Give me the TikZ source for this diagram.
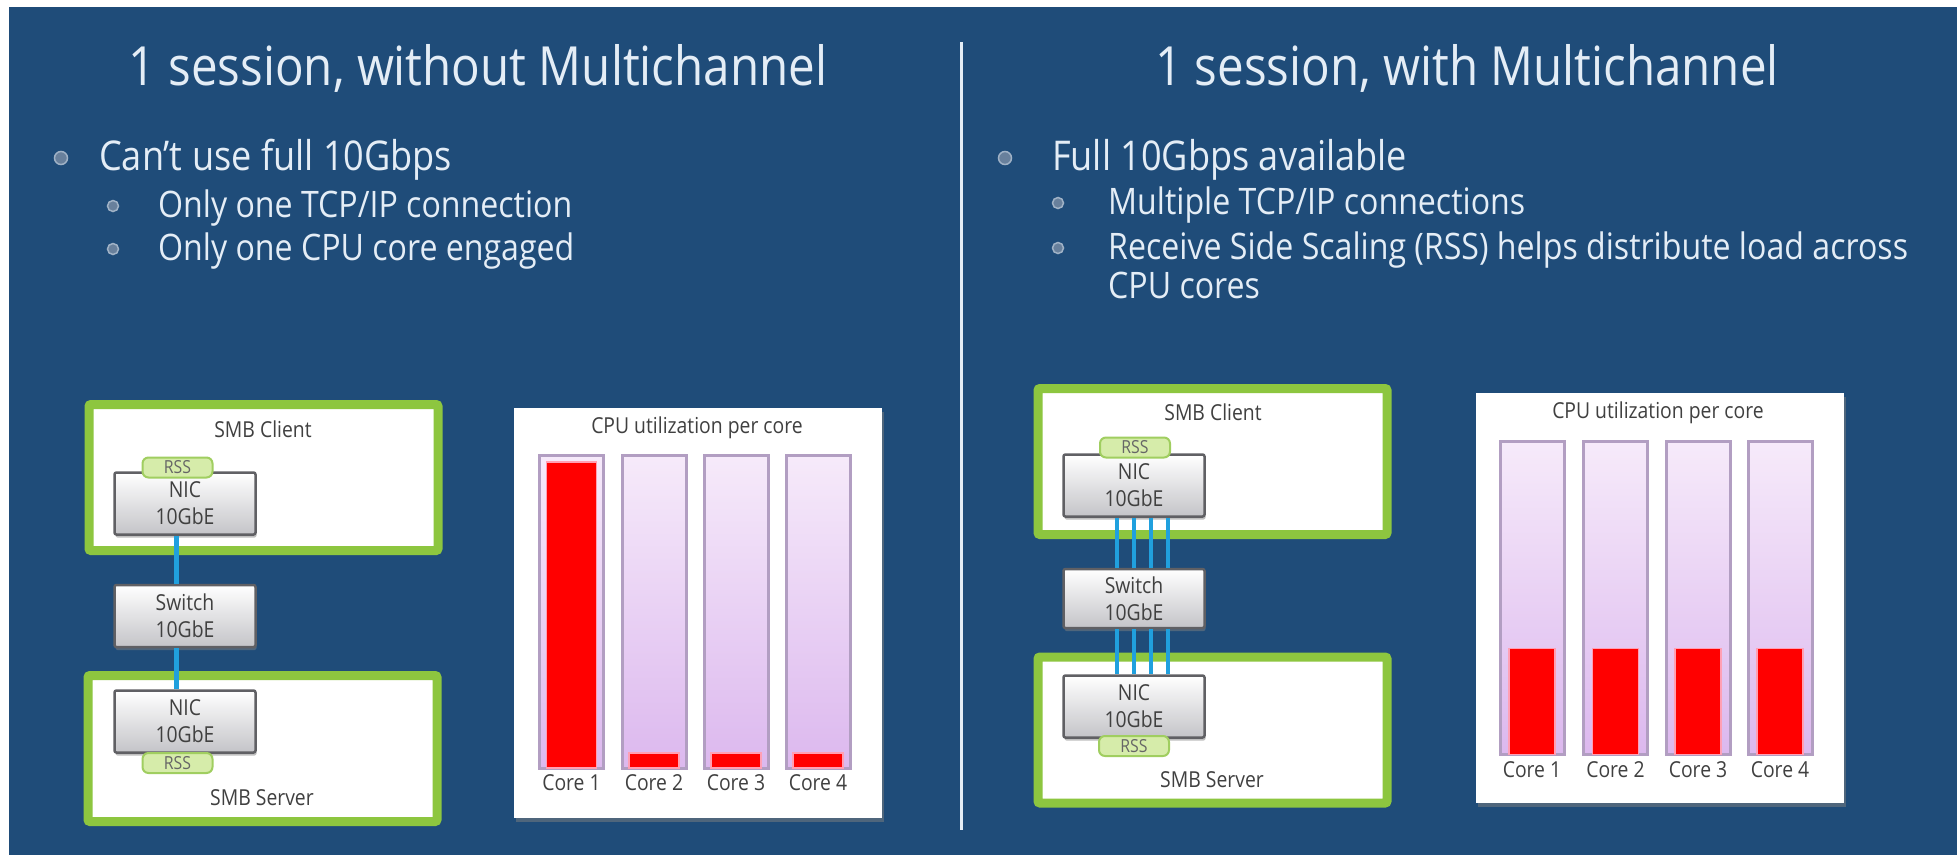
\documentclass[tikz,border=0pt]{standalone}
\usepackage{fontspec}
\setmainfont{Open Sans}[FakeStretch=0.88]
\usetikzlibrary{positioning, shadows}
\definecolor{slideblue}{RGB}{31,76,121}
\definecolor{slidetext}{RGB}{228,237,246}
\definecolor{hostgreen}{RGB}{141,198,63}
\definecolor{rssgreen}{RGB}{214,236,170}
\definecolor{rssedge}{RGB}{160,206,96}
\definecolor{boxgray}{RGB}{196,196,200}
\definecolor{boxedge}{RGB}{96,96,100}
\definecolor{darktext}{RGB}{64,64,64}
\definecolor{wireblue}{RGB}{32,160,222}
\definecolor{bartop}{RGB}{246,234,250}
\definecolor{barbottom}{RGB}{220,184,238}
\definecolor{baredge}{RGB}{178,158,194}
\definecolor{loadred}{RGB}{255,0,0}
\definecolor{loadedge}{RGB}{255,160,180}
\definecolor{bulletgray}{RGB}{104,128,156}
\definecolor{bulletrim}{RGB}{160,178,198}
\tikzstyle{slidetitle}=[text=slidetext, font=\fontsize{54}{60}\selectfont, inner sep=0pt, anchor=base]
\tikzstyle{mainpoint}=[text=slidetext, font=\fontsize{41}{46}\selectfont, inner sep=0pt, anchor=base west]
\tikzstyle{subpoint}=[text=slidetext, font=\fontsize{36.5}{40}\selectfont, inner sep=0pt, anchor=base west]
\tikzstyle{bulletdot}=[circle, fill=bulletgray, draw=bulletrim, line width=1.5pt, minimum size=13pt, inner sep=0pt]
\tikzstyle{hostbox}=[draw=hostgreen, line width=9pt, fill=white, rounded corners=2pt, minimum width=349pt, minimum height=146pt, inner sep=0pt, drop shadow={shadow xshift=1pt, shadow yshift=-3pt, opacity=.4}]
\tikzstyle{hostlabel}=[text=darktext, font=\fontsize{22}{24}\selectfont, inner sep=0pt]
\tikzstyle{devbox}=[draw=boxedge, line width=2.5pt, top color=white, bottom color=boxgray, rounded corners=2pt, minimum width=141pt, minimum height=62pt, inner sep=0pt, align=center, text=darktext, font=\fontsize{22}{27}\selectfont, drop shadow={shadow xshift=1pt, shadow yshift=-3pt, opacity=.5}]
\tikzstyle{rsstag}=[draw=rssedge, line width=2pt, fill=rssgreen, rounded corners=6pt, minimum width=70pt, minimum height=20pt, inner sep=0pt, text=darktext!80, font=\fontsize{18}{20}\selectfont]
\tikzstyle{wire}=[wireblue, line width=5pt]
\tikzstyle{chartbox}=[fill=white, minimum width=368pt, minimum height=410pt, inner sep=0pt, drop shadow={shadow xshift=2pt, shadow yshift=-4pt, opacity=.5}]
\tikzstyle{chartlabel}=[text=darktext, font=\fontsize{22}{24}\selectfont, inner sep=0pt]
\tikzstyle{corebar}=[draw=baredge, line width=3pt, top color=bartop, bottom color=barbottom, minimum width=64pt, minimum height=313pt, inner sep=0pt]
\tikzstyle{loadfill}=[fill=loadred, draw=loadedge, line width=1.5pt, inner sep=0pt, anchor=south]

\begin{document}
\begin{tikzpicture}[x=1pt, y=-1pt]
  \fill[white] (0,0) rectangle (1957,855);
  \fill[slideblue] (9,7) rectangle (1957,855);
  \useasboundingbox (0,0) rectangle (1957,855);

  % headings and bullet points
  \node[slidetitle] (titleL) at (478,85) {1 session, without Multichannel};
  \node[slidetitle] (titleR) at (1467,85) {1 session, with Multichannel};
  \coordinate (divtop) at (961,42);
  \coordinate (divbot) at (961,830);
  \draw[slidetext, line width=3pt] (divtop) -- (divbot);

  \node[bulletdot] (bL1) at (61,158) {};
  \node[mainpoint] (pL1) at (99,170) {Can't use full 10Gbps};
  \node[bulletdot, minimum size=11pt] (bL2) at (113,206) {};
  \node[subpoint] (pL2) at (158,217) {Only one TCP/IP connection};
  \node[bulletdot, minimum size=11pt] (bL3) at (113,249) {};
  \node[subpoint] (pL3) at (158,260) {Only one CPU core engaged};

  \node[bulletdot] (bR1) at (1005,158) {};
  \node[mainpoint] (pR1) at (1052,170) {Full 10Gbps available};
  \node[bulletdot, minimum size=11pt] (bR2) at (1058,203) {};
  \node[subpoint] (pR2) at (1108,214) {Multiple TCP/IP connections};
  \node[bulletdot, minimum size=11pt] (bR3) at (1058,248) {};
  \node[subpoint] (pR3) at (1108,259) {Receive Side Scaling (RSS) helps distribute load across};
  \node[subpoint] (pR4) at (1108,298) {CPU cores};

  % left: one connection
  \node[hostbox] (cliL) at (263.5,477.5) {};
  \node[hostlabel] at (263,429) {SMB Client};
  \node[devbox] (nicL1) at (185,503.5) {NIC\\10GbE};
  \node[rsstag] at (177.5,467.5) {RSS};
  \node[devbox] (swL) at (185,616) {Switch\\10GbE};
  \node[hostbox] (srvL) at (262.5,748.5) {};
  \node[hostlabel] at (262,798) {SMB Server};
  \node[devbox] (nicL2) at (185,721.5) {NIC\\10GbE};
  \node[rsstag] at (177.5,763) {RSS};
  \draw[wire] ([xshift=-9pt]nicL1.south) -- ([xshift=-9pt]swL.north);
  \draw[wire] ([xshift=-9pt]swL.south) -- ([xshift=-9pt]nicL2.north);

  \node[chartbox] (chartL) at (698,612.5) {};
  \node[chartlabel] at (697,428) {CPU utilization per core};
  \foreach \n/\x/\h in {1/571.5/306, 2/654/15, 3/736/15, 4/818/15} {
    \node[corebar] (barL\n) at (\x,611.5) {};
    \node[loadfill, minimum width=50pt, minimum height=\h pt] at ([yshift=1pt]barL\n.south) {};
    \node[chartlabel, below=5pt of barL\n] {Core \n};
  }

  % right: multichannel
  \node[hostbox] (cliR) at (1212.5,461.5) {};
  \node[hostlabel] at (1213,412) {SMB Client};
  \node[devbox] (nicR1) at (1134,485.5) {NIC\\10GbE};
  \node[rsstag] at (1135,447.5) {RSS};
  \node[devbox, minimum height=59pt] (swR) at (1134,598.5) {Switch\\10GbE};
  \node[hostbox] (srvR) at (1212.5,730) {};
  \node[hostlabel] at (1212,780) {SMB Server};
  \node[devbox] (nicR2) at (1134,706.5) {NIC\\10GbE};
  \node[rsstag] at (1134,746) {RSS};
  \foreach \dx in {-17,0,17,34} {
    \draw[wire, line width=4pt] ([xshift=\dx pt]nicR1.south) -- ([xshift=\dx pt]swR.north);
    \draw[wire, line width=4pt] ([xshift=\dx pt]swR.south) -- ([xshift=\dx pt]nicR2.north);
  }

  \node[chartbox] (chartR) at (1660,598) {};
  \node[chartlabel] at (1658,413) {CPU utilization per core};
  \foreach \n/\x in {1/1532, 2/1615.5, 3/1698, 4/1780} {
    \node[corebar] (barR\n) at (\x,598) {};
    \node[loadfill, minimum width=46pt, minimum height=106pt] at ([yshift=1pt]barR\n.south) {};
    \node[chartlabel, below=5pt of barR\n] {Core \n};
  }
\end{tikzpicture}
\end{document}
